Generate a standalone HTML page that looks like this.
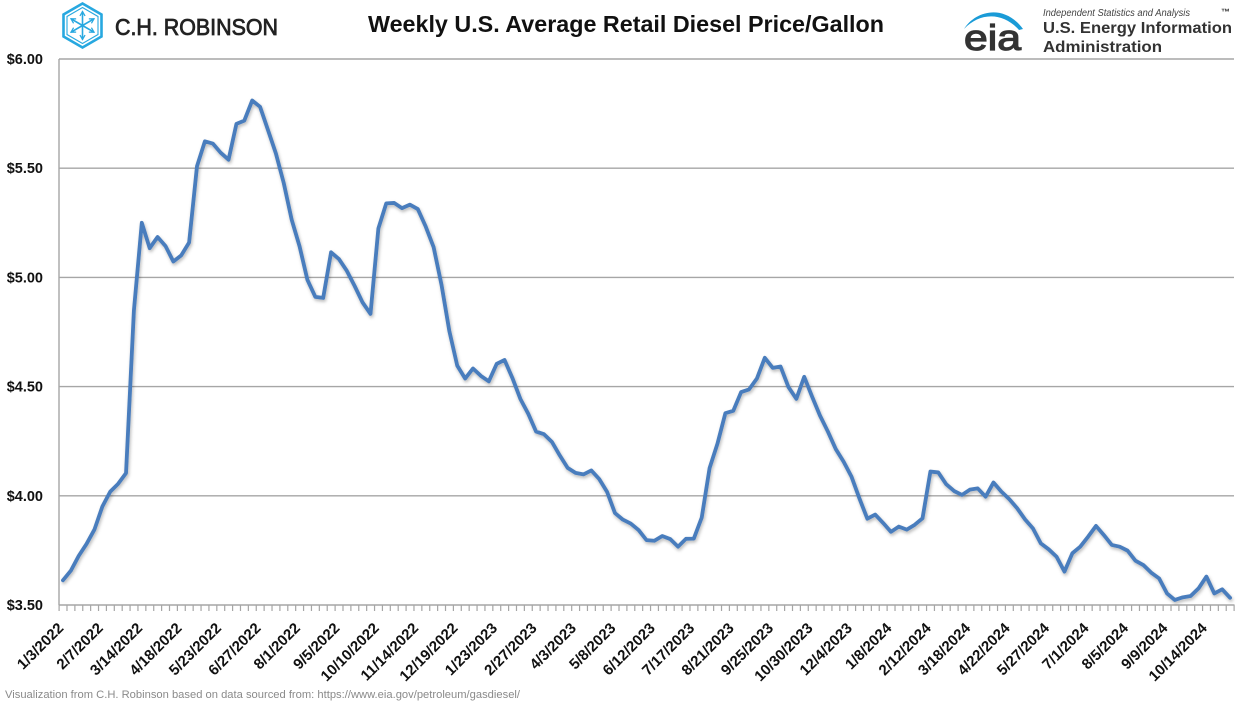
<!DOCTYPE html>
<html>
<head>
<meta charset="utf-8">
<style>
  html,body{margin:0;padding:0;background:#fff;}
  body{width:1250px;height:702px;overflow:hidden;}
  svg{display:block;}
  text{font-family:"Liberation Sans", Arial, sans-serif;}
</style>
</head>
<body>
<svg width="1250" height="702" viewBox="0 0 1250 702" xmlns="http://www.w3.org/2000/svg">
  <defs>
    <filter id="sh" x="-5%" y="-5%" width="110%" height="115%">
      <feDropShadow dx="1" dy="2" stdDeviation="1.5" flood-color="#000" flood-opacity="0.28"/>
    </filter>
    <marker id="ar" viewBox="0 0 10 10" refX="8" refY="5" markerWidth="4" markerHeight="4" orient="auto">
      <path d="M1,1 L8,5 L1,9" fill="none" stroke="#27a8e0" stroke-width="2"/>
    </marker>
  </defs>

  <!-- C.H. Robinson logo -->
  <g fill="none" stroke="#27a8e0">
    <polygon points="82.5,3.5 101.5,14.5 101.5,36.5 82.5,47.5 63.5,36.5 63.5,14.5" stroke-width="2.6"/>
    <polygon points="82.5,7.5 98,16.5 98,34.5 82.5,43.5 67,34.5 67,16.5" stroke-width="1.1"/>
    <g stroke-width="1.6" marker-end="url(#ar)">
      <line x1="82.5" y1="25.5" x2="82.5" y2="11.5"/>
      <line x1="82.5" y1="25.5" x2="82.5" y2="39.5"/>
      <line x1="82.5" y1="25.5" x2="71" y2="18.8"/>
      <line x1="82.5" y1="25.5" x2="94" y2="18.8"/>
      <line x1="82.5" y1="25.5" x2="71" y2="32.2"/>
      <line x1="82.5" y1="25.5" x2="94" y2="32.2"/>
    </g>
  </g>
  <text x="115" y="35" font-size="23" fill="#222" textLength="163" lengthAdjust="spacingAndGlyphs" stroke="#222" stroke-width="0.8">C.H. ROBINSON</text>

  <!-- Title -->
  <text x="368" y="32" font-size="23" font-weight="bold" fill="#111" textLength="516" lengthAdjust="spacingAndGlyphs">Weekly U.S. Average Retail Diesel Price/Gallon</text>

  <!-- EIA logo -->
  <path d="M964,29 C975,11 1004,3 1023,29 L1019,30 C1003,12 980,12 964,29 Z" fill="#1a9bd7"/>
  <text x="964" y="50" font-size="36" fill="#333" stroke="#333" stroke-width="1.2" textLength="57" lengthAdjust="spacingAndGlyphs">eia</text>
  <text x="1043" y="16" font-size="10" font-style="italic" fill="#444" textLength="147" lengthAdjust="spacingAndGlyphs">Independent Statistics and Analysis</text>
  <text x="1221" y="15" font-size="9" font-weight="bold" fill="#333">™</text>
  <text x="1043" y="33" font-size="16" font-weight="bold" fill="#333" textLength="189" lengthAdjust="spacingAndGlyphs">U.S. Energy Information</text>
  <text x="1043" y="52" font-size="16" font-weight="bold" fill="#333" textLength="119" lengthAdjust="spacingAndGlyphs">Administration</text>

  <!-- Gridlines -->
  <g stroke="#a6a6a6" stroke-width="1.4">
    <line x1="59" y1="59" x2="1234" y2="59"/>
    <line x1="59" y1="168.2" x2="1234" y2="168.2"/>
    <line x1="59" y1="277.4" x2="1234" y2="277.4"/>
    <line x1="59" y1="386.6" x2="1234" y2="386.6"/>
    <line x1="59" y1="495.8" x2="1234" y2="495.8"/>
  </g>
  <!-- Axes -->
  <g stroke="#a6a6a6" stroke-width="1.4">
    <line x1="59" y1="59" x2="59" y2="605"/>
    <line x1="59" y1="605" x2="1234.5" y2="605"/>
  </g>
  <line x1="58.5" y1="608" x2="1236" y2="608" stroke="#a6a6a6" stroke-width="6" stroke-dasharray="1.2 6.686"/>

  <!-- Y labels -->
  <g font-size="14.5" font-weight="bold" fill="#111" text-anchor="end">
    <text x="43" y="64">$6.00</text>
    <text x="43" y="173.2">$5.50</text>
    <text x="43" y="282.4">$5.00</text>
    <text x="43" y="391.6">$4.50</text>
    <text x="43" y="500.8">$4.00</text>
    <text x="43" y="610">$3.50</text>
  </g>

  <!-- X labels -->
  <g font-size="15" font-weight="bold" fill="#111" text-anchor="end">
    <text transform="translate(64.4,629) rotate(-45)">1/3/2022</text>
    <text transform="translate(103.9,629) rotate(-45)">2/7/2022</text>
    <text transform="translate(143.3,629) rotate(-45)">3/14/2022</text>
    <text transform="translate(182.7,629) rotate(-45)">4/18/2022</text>
    <text transform="translate(222.2,629) rotate(-45)">5/23/2022</text>
    <text transform="translate(261.6,629) rotate(-45)">6/27/2022</text>
    <text transform="translate(301,629) rotate(-45)">8/1/2022</text>
    <text transform="translate(340.5,629) rotate(-45)">9/5/2022</text>
    <text transform="translate(379.9,629) rotate(-45)">10/10/2022</text>
    <text transform="translate(419.3,629) rotate(-45)">11/14/2022</text>
    <text transform="translate(458.7,629) rotate(-45)">12/19/2022</text>
    <text transform="translate(498.2,629) rotate(-45)">1/23/2023</text>
    <text transform="translate(537.6,629) rotate(-45)">2/27/2023</text>
    <text transform="translate(577,629) rotate(-45)">4/3/2023</text>
    <text transform="translate(616.5,629) rotate(-45)">5/8/2023</text>
    <text transform="translate(655.9,629) rotate(-45)">6/12/2023</text>
    <text transform="translate(695.3,629) rotate(-45)">7/17/2023</text>
    <text transform="translate(734.8,629) rotate(-45)">8/21/2023</text>
    <text transform="translate(774.2,629) rotate(-45)">9/25/2023</text>
    <text transform="translate(813.6,629) rotate(-45)">10/30/2023</text>
    <text transform="translate(853,629) rotate(-45)">12/4/2023</text>
    <text transform="translate(892.5,629) rotate(-45)">1/8/2024</text>
    <text transform="translate(931.9,629) rotate(-45)">2/12/2024</text>
    <text transform="translate(971.3,629) rotate(-45)">3/18/2024</text>
    <text transform="translate(1010.8,629) rotate(-45)">4/22/2024</text>
    <text transform="translate(1050.2,629) rotate(-45)">5/27/2024</text>
    <text transform="translate(1089.6,629) rotate(-45)">7/1/2024</text>
    <text transform="translate(1129.1,629) rotate(-45)">8/5/2024</text>
    <text transform="translate(1168.5,629) rotate(-45)">9/9/2024</text>
    <text transform="translate(1207.9,629) rotate(-45)">10/14/2024</text>
  </g>

  <!-- Data line -->
  <g filter="url(#sh)">
    <polyline fill="none" stroke="#4a7dbd" stroke-width="3.8" stroke-linejoin="round" stroke-linecap="round" vector-effect="non-scaling-stroke"
      transform="translate(62.94,605) scale(7.886,-218.4) translate(0,-3.5)"
      points="0,3.613 1,3.657 2,3.725 3,3.780 4,3.846 5,3.951 6,4.019 7,4.055 8,4.104 9,4.849 10,5.250 11,5.134 12,5.185 13,5.144 14,5.073 15,5.101 16,5.160 17,5.509 18,5.623 19,5.613 20,5.571 21,5.539 22,5.703 23,5.718 24,5.810 25,5.781 26,5.675 27,5.568 28,5.432 29,5.265 30,5.143 31,4.989 32,4.911 33,4.906 34,5.115 35,5.084 36,5.030 37,4.960 38,4.885 39,4.833 40,5.224 41,5.339 42,5.341 43,5.317 44,5.333 45,5.313 46,5.233 47,5.139 48,4.967 49,4.754 50,4.596 51,4.537 52,4.583 53,4.549 54,4.524 55,4.604 56,4.622 57,4.539 58,4.444 59,4.376 60,4.294 61,4.282 62,4.247 63,4.185 64,4.128 65,4.105 66,4.098 67,4.116 68,4.077 69,4.018 70,3.921 71,3.891 72,3.873 73,3.843 74,3.797 75,3.794 76,3.816 77,3.802 78,3.767 79,3.803 80,3.804 81,3.900 82,4.127 83,4.239 84,4.378 85,4.389 86,4.475 87,4.487 88,4.537 89,4.632 90,4.586 91,4.592 92,4.498 93,4.444 94,4.545 95,4.454 96,4.367 97,4.294 98,4.214 99,4.156 100,4.087 101,3.988 102,3.895 103,3.914 104,3.876 105,3.835 106,3.859 107,3.845 108,3.867 109,3.897 110,4.111 111,4.107 112,4.053 113,4.022 114,4.004 115,4.028 116,4.034 117,3.996 118,4.061 119,4.019 120,3.985 121,3.943 122,3.892 123,3.851 124,3.782 125,3.755 126,3.721 127,3.653 128,3.737 129,3.767 130,3.813 131,3.862 132,3.820 133,3.775 134,3.767 135,3.749 136,3.703 137,3.683 138,3.648 139,3.622 140,3.553 141,3.523 142,3.535 143,3.541 144,3.576 145,3.630 146,3.553 147,3.572 148,3.533"/>
  </g>

  <!-- Footer -->
  <text x="5" y="698" font-size="11" fill="#8a8a8a" textLength="515" lengthAdjust="spacingAndGlyphs">Visualization from C.H. Robinson based on data sourced from: https://www.eia.gov/petroleum/gasdiesel/</text>
</svg>
</body>
</html>
